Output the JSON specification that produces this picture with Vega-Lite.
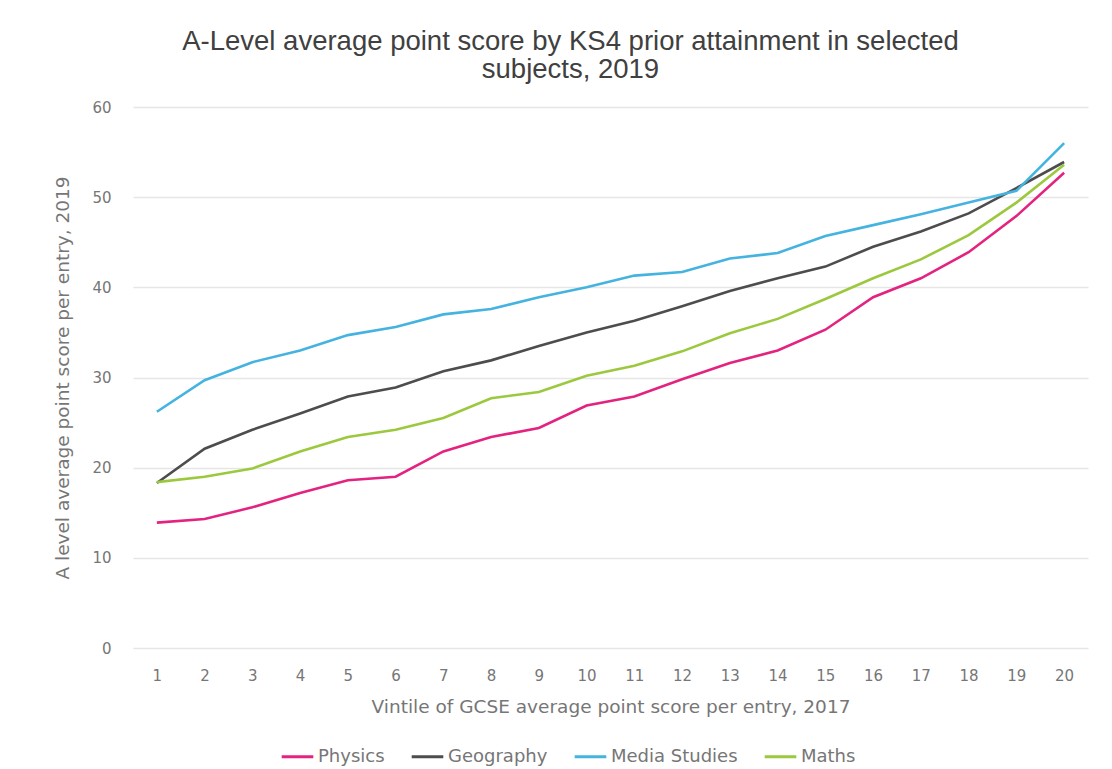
{
  "$schema": "https://vega.github.io/schema/vega-lite/v6.json",
  "autosize": {"type": "none"},
  "width": 955,
  "height": 541,
  "padding": {"left": 133, "top": 107, "right": 24, "bottom": 121},
  "background": "#ffffff",
  "title": {
    "text": ["A-Level average point score by KS4 prior attainment in selected", "subjects, 2019"],
    "font": "Liberation Sans",
    "fontSize": 27.5,
    "fontWeight": "normal",
    "color": "#404040",
    "anchor": "middle",
    "dx": -40,
    "lineHeight": 28,
    "offset": 17
  },
  "data": {
    "values": [
      {"vintile": 1, "Physics": 13.9, "Geography": 18.3, "Media Studies": 26.2, "Maths": 18.4},
      {"vintile": 2, "Physics": 14.3, "Geography": 22.1, "Media Studies": 29.7, "Maths": 19.0},
      {"vintile": 3, "Physics": 15.6, "Geography": 24.2, "Media Studies": 31.7, "Maths": 19.9},
      {"vintile": 4, "Physics": 17.2, "Geography": 26.0, "Media Studies": 33.0, "Maths": 21.8},
      {"vintile": 5, "Physics": 18.6, "Geography": 27.9, "Media Studies": 34.7, "Maths": 23.4},
      {"vintile": 6, "Physics": 19.0, "Geography": 28.9, "Media Studies": 35.6, "Maths": 24.2},
      {"vintile": 7, "Physics": 21.8, "Geography": 30.7, "Media Studies": 37.0, "Maths": 25.5},
      {"vintile": 8, "Physics": 23.4, "Geography": 31.9, "Media Studies": 37.6, "Maths": 27.7},
      {"vintile": 9, "Physics": 24.4, "Geography": 33.5, "Media Studies": 38.9, "Maths": 28.4},
      {"vintile": 10, "Physics": 26.9, "Geography": 35.0, "Media Studies": 40.0, "Maths": 30.2},
      {"vintile": 11, "Physics": 27.9, "Geography": 36.3, "Media Studies": 41.3, "Maths": 31.3},
      {"vintile": 12, "Physics": 29.8, "Geography": 37.9, "Media Studies": 41.7, "Maths": 32.9},
      {"vintile": 13, "Physics": 31.6, "Geography": 39.6, "Media Studies": 43.2, "Maths": 34.9},
      {"vintile": 14, "Physics": 33.0, "Geography": 41.0, "Media Studies": 43.8, "Maths": 36.5},
      {"vintile": 15, "Physics": 35.3, "Geography": 42.3, "Media Studies": 45.7, "Maths": 38.7},
      {"vintile": 16, "Physics": 38.9, "Geography": 44.5, "Media Studies": 46.9, "Maths": 41.0},
      {"vintile": 17, "Physics": 41.0, "Geography": 46.2, "Media Studies": 48.1, "Maths": 43.1},
      {"vintile": 18, "Physics": 43.9, "Geography": 48.2, "Media Studies": 49.4, "Maths": 45.8},
      {"vintile": 19, "Physics": 47.9, "Geography": 51.0, "Media Studies": 50.7, "Maths": 49.4},
      {"vintile": 20, "Physics": 52.7, "Geography": 53.9, "Media Studies": 56.0, "Maths": 53.6}
    ]
  },
  "transform": [
    {"fold": ["Physics", "Geography", "Media Studies", "Maths"], "as": ["subject", "score"]}
  ],
  "mark": {"type": "line", "strokeWidth": 2.6, "interpolate": "linear"},
  "encoding": {
    "x": {
      "field": "vintile",
      "type": "ordinal",
      "scale": {"type": "point", "padding": 0.5},
      "axis": {
        "title": "Vintile of GCSE average point score per entry, 2017",
        "labelAngle": 0,
        "labelPadding": 20,
        "titlePadding": 14,
        "domain": false,
        "ticks": false,
        "grid": false
      }
    },
    "y": {
      "field": "score",
      "type": "quantitative",
      "scale": {"domain": [0, 60], "nice": false},
      "axis": {
        "title": "A level average point score per entry, 2019",
        "values": [0, 10, 20, 30, 40, 50, 60],
        "labelPadding": 22,
        "titlePadding": 19,
        "domain": false,
        "ticks": false,
        "grid": true,
        "gridColor": "#e6e6e6",
        "gridWidth": 1.5
      }
    },
    "color": {
      "field": "subject",
      "type": "nominal",
      "scale": {
        "domain": ["Physics", "Geography", "Media Studies", "Maths"],
        "range": ["#e3237f", "#4d4d4d", "#45b3e0", "#9cc83e"]
      },
      "legend": {
        "title": null,
        "orient": "none",
        "direction": "horizontal",
        "legendX": 147,
        "legendY": 632,
        "symbolType": "stroke",
        "symbolSize": 1000,
        "symbolStrokeWidth": 3,
        "labelOffset": 3,
        "columnPadding": 20
      }
    }
  },
  "config": {
    "view": {"stroke": null},
    "axis": {
      "labelFont": "DejaVu Sans",
      "labelFontSize": 15,
      "labelColor": "#767676",
      "titleFont": "DejaVu Sans",
      "titleFontSize": 18.5,
      "titleFontWeight": "normal",
      "titleColor": "#767676"
    },
    "legend": {
      "labelFont": "DejaVu Sans",
      "labelFontSize": 18,
      "labelColor": "#767676"
    }
  }
}
